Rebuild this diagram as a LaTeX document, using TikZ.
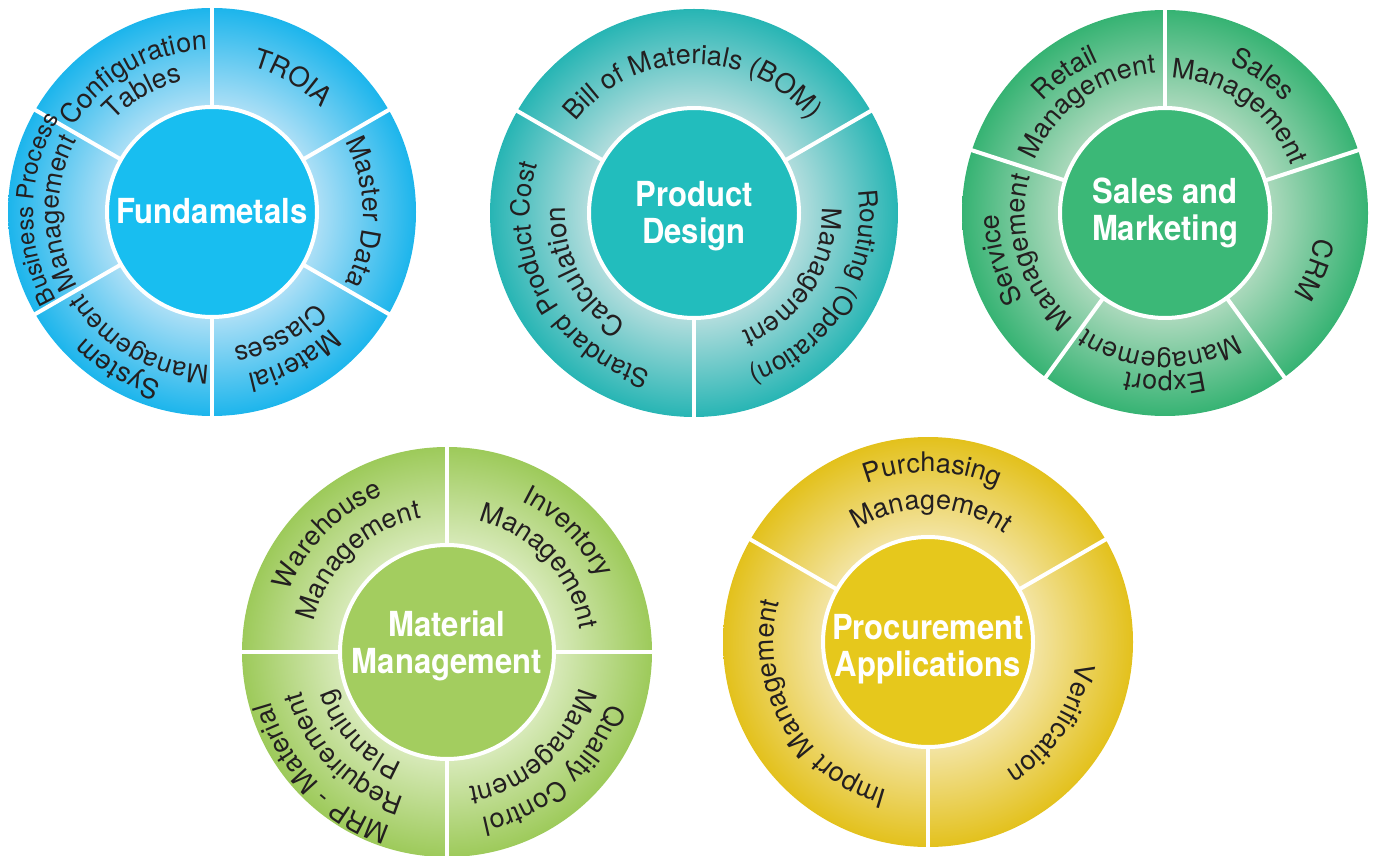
\documentclass[tikz,border=0pt]{standalone}
\usepackage{fontspec}
\usetikzlibrary{calc,decorations.text}
\newfontfamily\ringfont{TeX Gyre Heros}
\newfontfamily\centerfont[FakeStretch=0.9]{TeX Gyre Heros}
\definecolor{txt}{HTML}{231F20}
\definecolor{cyanD}{HTML}{1CB5EC}\definecolor{cyanL}{HTML}{ACDFF6}\definecolor{cyanI}{HTML}{18BEF0}
\definecolor{tealD}{HTML}{27B5B4}\definecolor{tealL}{HTML}{B2DDDD}\definecolor{tealI}{HTML}{22BDBD}
\definecolor{grnD}{HTML}{36B373}\definecolor{grnL}{HTML}{ABD9BC}\definecolor{grnI}{HTML}{3BB877}
\definecolor{limeD}{HTML}{9DCA5A}\definecolor{limeL}{HTML}{D8EABA}\definecolor{limeI}{HTML}{A3CD5F}
\definecolor{yelD}{HTML}{E3C11C}\definecolor{yelL}{HTML}{F3E4A2}\definecolor{yelI}{HTML}{E6C81C}
\pgfdeclareradialshading{shA}{\pgfpointorigin}{color(0bp)=(cyanL); color(13bp)=(cyanL); color(25bp)=(cyanD); color(50bp)=(cyanD)}
\pgfdeclareradialshading{shB}{\pgfpointorigin}{color(0bp)=(tealL); color(13bp)=(tealL); color(25bp)=(tealD); color(50bp)=(tealD)}
\pgfdeclareradialshading{shC}{\pgfpointorigin}{color(0bp)=(grnL); color(13bp)=(grnL); color(25bp)=(grnD); color(50bp)=(grnD)}
\pgfdeclareradialshading{shD}{\pgfpointorigin}{color(0bp)=(limeL); color(13bp)=(limeL); color(25bp)=(limeD); color(50bp)=(limeD)}
\pgfdeclareradialshading{shE}{\pgfpointorigin}{color(0bp)=(yelL); color(13bp)=(yelL); color(25bp)=(yelD); color(50bp)=(yelD)}
\newcommand\arclabel[5]{%
  \path[decorate,decoration={text along path,text align=center,
    text={|\ringfont\fontsize{#4}{#4}\selectfont\color{txt}|#5}}]
    ($(#1)+({#2+85}:#3)$) arc[start angle={#2+85}, end angle={#2-85}, radius=#3];}
\tikzset{
  divider/.style={white, line width=4},
  hub/.style={draw=white, line width=4},
  ctext/.style={text=white, align=center, inner sep=0,
    font=\centerfont\bfseries\fontsize{34.5}{37}\selectfont}
}
\begin{document}
\begin{tikzpicture}[x=1pt,y=1pt]
\useasboundingbox (0,0) rectangle (1375,855);
\coordinate (c1) at (212,643);
\coordinate (c2) at (694,642);
\coordinate (c3) at (1165,642);
\coordinate (c4) at (447,203);
\coordinate (c5) at (928,213);
% ---- circle 1
\shade[shading=shA] (c1) circle (204);
\foreach \a in {90,30,-30,-90,-150,150}
  \draw[divider] ($(c1)+(\a:100)$) -- ($(c1)+(\a:208)$);
\fill[cyanI, hub] (c1) circle (105);
\node[ctext] (t1) at ($(c1)+(0,1)$) {Fundametals};
\arclabel{c1}{120}{162}{27}{Configuration}
\arclabel{c1}{120}{134}{27}{Tables}
\arclabel{c1}{59}{151}{27}{TROIA}
\arclabel{c1}{0}{151}{27}{Master Data}
\arclabel{c1}{-61}{166}{27}{Material}
\arclabel{c1}{-61}{137}{27}{Classes}
\arclabel{c1}{-121}{178}{27}{System}
\arclabel{c1}{-119.5}{153}{26}{Management}
\arclabel{c1}{179}{179}{24}{Business Process}
\arclabel{c1}{180.5}{153}{26}{Management}
% ---- circle 2
\shade[shading=shB] (c2) circle (204);
\foreach \a in {30,150,270}
  \draw[divider] ($(c2)+(\a:100)$) -- ($(c2)+(\a:208)$);
\fill[tealI, hub] (c2) circle (105);
\node[ctext] (t2) at ($(c2)+(0,-3)$) {Product\\Design};
\arclabel{c2}{90.5}{149}{27}{Bill of Materials (BOM)}
\arclabel{c2}{-31.5}{166}{26}{Routing (Operation)}
\arclabel{c2}{-33}{128}{27}{Management}
\arclabel{c2}{208.7}{164}{26}{Standard Product Cost}
\arclabel{c2}{208}{129}{28}{Calculation}
% ---- circle 3
\shade[shading=shC] (c3) circle (203);
\foreach \a in {90,18,-54,-126,162}
  \draw[divider] ($(c3)+(\a:100)$) -- ($(c3)+(\a:208)$);
\fill[grnI, hub] (c3) circle (105);
\node[ctext] (t3) at (c3) {Sales and\\Marketing};
\arclabel{c3}{125.6}{165}{27}{Retail}
\arclabel{c3}{126}{140}{27}{Management}
\arclabel{c3}{54.8}{163}{27}{Sales}
\arclabel{c3}{54}{135}{27}{Management}
\arclabel{c3}{-20.8}{152}{27}{CRM}
\arclabel{c3}{-90}{163}{27}{Export}
\arclabel{c3}{-92}{140}{27}{Management}
\arclabel{c3}{196}{166}{27}{Service}
\arclabel{c3}{197}{140}{27}{Management}
% ---- circle 4
\shade[shading=shD] (c4) circle (205);
\foreach \a in {0,90,180,270}
  \draw[divider] ($(c4)+(\a:100)$) -- ($(c4)+(\a:209)$);
\fill[limeI, hub] (c4) circle (107);
\node[ctext] (t4) at ($(c4)+(0,6)$) {Material\\Management};
\arclabel{c4}{135.6}{169}{27}{Warehouse}
\arclabel{c4}{134}{136}{27}{Management}
\arclabel{c4}{44.7}{168}{27}{Inventory}
\arclabel{c4}{43}{135}{27}{Management}
\arclabel{c4}{-47.8}{169}{27}{Quality Control}
\arclabel{c4}{-48}{137}{27}{Management}
\arclabel{c4}{224}{183}{27}{MRP - Material}
\arclabel{c4}{224.4}{151}{27}{Requirement}
\arclabel{c4}{223}{120}{27}{Planning}
% ---- circle 5
\shade[shading=shE] (c5) circle (205);
\foreach \a in {30,150,270}
  \draw[divider] ($(c5)+(\a:100)$) -- ($(c5)+(\a:209)$);
\fill[yelI, hub] (c5) circle (105);
\node[ctext] (t5) at ($(c5)+(0,-7)$) {Procurement\\Applications};
\arclabel{c5}{88.5}{170}{27}{Purchasing}
\arclabel{c5}{88.5}{133}{27}{Management}
\arclabel{c5}{-33.4}{150}{27}{Verification}
\arclabel{c5}{209.8}{154}{27}{Import Management}
\end{tikzpicture}
\end{document}
